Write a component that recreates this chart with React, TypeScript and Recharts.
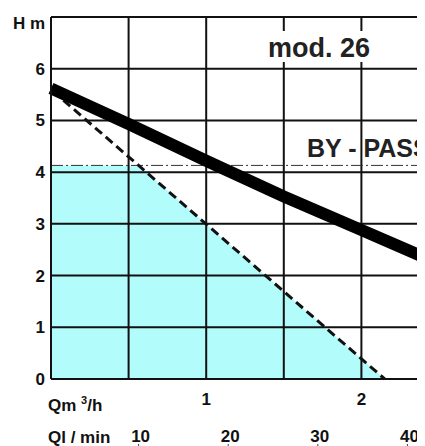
import {
  ComposedChart,
  Line,
  Area,
  XAxis,
  YAxis,
  ReferenceLine,
} from 'recharts';

// flow in m3/h, head in metres
const qTicks = [0, 0.5, 1, 1.5, 2, 2.5];
const qLabels = ['', '', '1', '', '2', ''];
const hTicks = [0, 1, 2, 3, 4, 5, 6, 7];
const hLabels = ['0', '1', '2', '3', '4', '5', '6', ''];
const lminTicks = [10, 20, 30, 40];

const pumpQ = [0, 0.5, 1, 1.5, 2, 2.5];
const pumpH = [5.62, 4.93, 4.22, 3.53, 2.88, 2.23];

const limitQ = [0.08, 2.15];
const limitH = [5.39, 0];

const bypassH = 4.13;

const zoneQ = [0, 0.565, 2.15];
const zoneH = [4.13, 4.13, 0];

const pumpData = pumpQ.map((q, i) => ({ q, h: pumpH[i] }));
const limitData = limitQ.map((q, i) => ({ q, h: limitH[i] }));
const zoneData = zoneQ.map((q, i) => ({ q, h: zoneH[i] }));
// only there so the l/min axis has something to scale
const lminData = lminTicks.map((l) => ({ l, h: 0 }));

const FONT = '"Liberation Sans", Arial, sans-serif';
const INK = '#111';

function XTick(props: any) {
  const { x, y, payload, labels, lift, mark } = props;
  const label = labels ? labels[payload.index] : String(payload.value);
  if (!label) return null;
  return (
    <g>
      <text
        x={x}
        y={y + lift}
        textAnchor="middle"
        fill={INK}
        fontSize={17}
        fontWeight="bold"
        fontFamily={FONT}
      >
        {label}
      </text>
      {mark && (
        <line x1={x - 2} x2={x - 2} y1={y + lift + 2} y2={y + lift + 8} stroke="#444" strokeWidth={1} />
      )}
    </g>
  );
}

// value label left of a horizontal grid line
function HLabel(props: any) {
  const { viewBox, text } = props;
  if (!viewBox || !text) return null;
  return (
    <text
      x={viewBox.x - 6}
      y={viewBox.y + 6}
      textAnchor="end"
      fill={INK}
      fontSize={17}
      fontWeight="bold"
      fontFamily={FONT}
    >
      {text}
    </text>
  );
}

export default function App() {
  return (
    <div
      style={{
        position: 'relative',
        margin: '-8px 0 0 -8px',
        width: 425,
        height: 446,
        overflow: 'hidden',
        background: '#fff',
        fontFamily: FONT,
      }}
    >
      <ComposedChart
        width={440}
        height={446}
        margin={{ top: 17, right: 1, bottom: 0, left: 0 }}
        style={{ position: 'absolute', left: 0, top: 0 }}
      >
        <XAxis
          xAxisId="a"
          dataKey="q"
          type="number"
          domain={[0, 2.5]}
          ticks={qTicks}
          height={35}
          tickSize={0}
          tickMargin={8}
          axisLine={{ stroke: INK, strokeWidth: 2 }}
          tick={<XTick labels={qLabels} lift={18} />}
        />
        <XAxis
          xAxisId="b"
          dataKey="l"
          type="number"
          domain={[0, 43.3]}
          allowDataOverflow
          ticks={lminTicks}
          height={32}
          tickSize={0}
          tickMargin={8}
          axisLine={false}
          tick={<XTick lift={20} mark />}
        />
        <YAxis
          type="number"
          domain={[0, 7]}
          ticks={hTicks}
          width={51}
          tick={false}
          tickLine={false}
          axisLine={{ stroke: INK, strokeWidth: 2 }}
        />
        <Area
          xAxisId="a"
          data={zoneData}
          dataKey="h"
          type="linear"
          fill="#b2fcfc"
          fillOpacity={1}
          stroke="none"
          isAnimationActive={false}
        />
        {/* grid as reference lines so it sits on top of the cyan zone */}
        {qTicks.map((q) => (
          <ReferenceLine key={'v' + q} xAxisId="a" x={q} stroke={INK} strokeWidth={2} />
        ))}
        {hTicks.map((h, i) => (
          <ReferenceLine
            key={'h' + h}
            xAxisId="a"
            y={h}
            stroke={INK}
            strokeWidth={2}
            label={<HLabel text={hLabels[i]} />}
          />
        ))}
        <Line
          xAxisId="b"
          data={lminData}
          dataKey="h"
          stroke="none"
          dot={false}
          isAnimationActive={false}
        />
        <ReferenceLine
          xAxisId="a"
          y={bypassH}
          stroke="#333"
          strokeWidth={1}
          strokeDasharray="12 3 2 3"
        />
        <Line
          xAxisId="a"
          data={limitData}
          dataKey="h"
          type="linear"
          stroke={INK}
          strokeWidth={3}
          strokeDasharray="9 5"
          dot={false}
          isAnimationActive={false}
        />
        <Line
          xAxisId="a"
          data={pumpData}
          dataKey="h"
          type="linear"
          stroke="#000"
          strokeWidth={12}
          dot={false}
          isAnimationActive={false}
        />
      </ComposedChart>
      <svg
        width={425}
        height={446}
        style={{ position: 'absolute', left: 0, top: 0, pointerEvents: 'none' }}
        fontFamily={FONT}
        fontWeight="bold"
        fill={INK}
      >
        <text x={13} y={29} fontSize={17}>H m</text>
        <rect x={262} y={31} width={112} height={31} fill="#fff" />
        <text x={268} y={57} fontSize={27} fill="#222">mod. 26</text>
        <text x={307} y={157} fontSize={25} fill="#222">BY - PASS</text>
        <text x={48} y={411} fontSize={17}>
          Qm <tspan dy={-7} fontSize={11}>3</tspan>
          <tspan dy={7}>/h</tspan>
        </text>
        <text x={48} y={443} fontSize={17}>Ql / min</text>
      </svg>
    </div>
  );
}
